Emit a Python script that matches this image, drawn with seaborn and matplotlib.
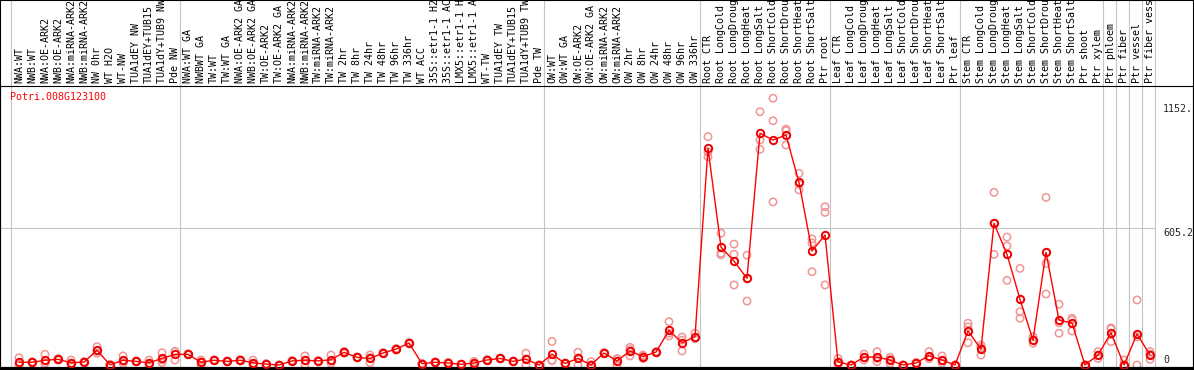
import numpy as np
import pandas as pd
import matplotlib
matplotlib.use("Agg")
import matplotlib.pyplot as plt
import matplotlib.transforms as mtransforms
from matplotlib.patches import Rectangle
import seaborn as sns

gene = "Potri.008G123100"

# condition labels, grouped as in the reference (text as shown, truncated at the top)
nw_labels = ["NWA:WT", "NWB:WT", "NWA:OE-ARK2", "NWB:OE-ARK2", "NWA:miRNA-ARK2",
             "NWB:miRNA-ARK2", "NW 0hr", "WT H2O", "WT-NW", "TUA1dEY NW",
             "TUA1dEY+TUB15", "TUA1dY+TUB9 NW", "Pde NW"]
tw_labels = ["NWA:WT GA", "NWBWT GA", "TW:WT", "TW:WT GA", "NWA:OE-ARK2 GA",
             "NWB:OE-ARK2 GA", "TW:OE-ARK2", "TW:OE-ARK2 GA", "NWA:miRNA-ARK2",
             "NWB:miRNA-ARK2", "TW:miRNA-ARK2", "TW:miRNA-ARK2", "TW 2hr", "TW 8hr",
             "TW 24hr", "TW 48hr", "TW 96hr", "TW 336hr", "WT ACC", "35S::etr1-1 H2",
             "35S::etr1-1 AC", "LMX5::etr1-1 H", "LMX5::etr1-1 A", "WT-TW", "TUA1dEY TW",
             "TUA1dEY+TUB15", "TUA1dY+TUB9 TW", "Pde TW"]
ow_labels = ["OW:WT", "OW:WT GA", "OW:OE-ARK2", "OW:OE-ARK2 GA", "OW:miRNA-ARK2",
             "OW:miRNA-ARK2", "OW 2hr", "OW 8hr", "OW 24hr", "OW 48hr", "OW 96hr", "OW 336hr"]
stress = ["CTR", "LongCold", "LongDroug", "LongHeat", "LongSalt",
          "ShortCold", "ShortDrou", "ShortHeat", "ShortSalt"]
root_labels = ["Root " + s for s in stress] + ["Ptr root"]
leaf_labels = ["Leaf " + s for s in stress] + ["Ptr leaf"]
stem_labels = ["Stem " + s for s in stress] + ["Ptr shoot", "Ptr xylem"]
tissue_labels = ["Ptr phloem", "Ptr fiber", "Ptr vessel", "Ptr fiber vess"]

groups = [nw_labels, tw_labels, ow_labels, root_labels, leaf_labels, stem_labels] + [[t] for t in tissue_labels]
labels = [l for g in groups for l in g]

means = [12, 12, 21, 25, 10, 13, 65, 1, 21, 16, 10, 29, 47,
         47, 12, 21, 16, 21, 10, 4, 0, 18, 21, 18, 23, 56, 34, 29, 53, 70, 97,
         6, 12, 9, 3, 9, 22, 29, 16, 26, 0,
         48, 7, 29, 0, 53, 18, 62, 37, 57, 153, 98, 125,
         955, 520, 458, 382, 1022, 992, 1014, 805, 503, 573,
         14, 0, 35, 35, 22, 0, 9, 41, 22, 0,
         150, 70, 625, 488, 290, 110, 497, 198, 185, 0, 44,
         142, 0, 137, 44]

reps = [[32, 3, 0], [12, 10, 14], [47, 8, 8], [28, 22, 25], [22, 8, 0], [13, 15, 11],
        [81, 62, 52], [1, 0, 2], [40, 16, 7], [16, 14, 18], [22, 8, 0], [54, 22, 10],
        [59, 60, 22],
        [50, 45, 46], [22, 14, 0], [21, 19, 23], [16, 14, 18], [24, 18, 21], [22, 8, 0],
        [4, 6, 2], [0, 0, 0], [18, 16, 20], [40, 21, 3], [18, 16, 20], [44, 18, 7],
        [60, 52, 56], [34, 32, 36], [44, 32, 10], [53, 51, 55], [72, 66, 72], [97, 94, 100],
        [6, 5, 7], [12, 10, 14], [12, 7, 8], [3, 2, 4], [9, 16, 2], [25, 20, 21],
        [29, 27, 31], [16, 14, 18], [52, 26, 0], [0, 0, 0],
        [104, 21, 19], [7, 5, 9], [56, 31, 0], [15, 0, 0], [55, 50, 54], [28, 26, 0],
        [78, 68, 40], [44, 38, 29], [57, 55, 59], [191, 128, 140], [123, 62, 109],
        [140, 119, 116],
        [1007, 918, 940], [581, 493, 486], [533, 488, 353], [484, 282, 380],
        [1117, 992, 951], [1176, 1077, 719], [1033, 970, 1040], [845, 772, 798],
        [556, 411, 538], [698, 673, 353],
        [29, 10, 3], [0, 0, 0], [48, 34, 22], [59, 30, 15], [34, 25, 7], [0, 0, 0],
        [9, 7, 11], [59, 36, 28], [40, 18, 8], [0, 0, 0],
        [184, 168, 98], [88, 44, 78], [761, 488, 625], [564, 525, 373], [426, 235, 206],
        [96, 110, 124], [739, 448, 313], [268, 140, 186], [206, 150, 199], [0, 0, 0],
        [59, 44, 29],
        [164, 103, 159], [22, 0, 0], [287, 0, 124], [59, 25, 48]]

y_ticks = [1152.0, 605.2, 0]
y_tick_text = ["1152.", "605.2", "0"]

sns.set_style("white")
plt.rcParams["font.family"] = ["DejaVu Sans Mono"]

W, H = 1194, 370
fig = plt.figure(figsize=(W / 100, H / 100), dpi=100)
ax = fig.add_axes([0, 2 / H, 1193 / W, 282 / H])

idx = np.arange(len(labels))
rep_df = pd.DataFrame([(i, v) for i, r in enumerate(reps) for v in r], columns=["idx", "value"])
mean_df = pd.DataFrame({"idx": idx, "value": means})

grid_c = "#c4c4c4"
xmin, xmax = -19 / 13, 1174 / 13
ax.set_xlim(xmin, xmax)
ax.set_ylim(-13.2, 1230.2)

# group separators, spanning the label area too
bounds = [-0.6] + list(np.cumsum([len(g) for g in groups]) - 0.6)
for b in bounds:
    ax.axvline(b, ymin=0, ymax=368 / 282, color=grid_c, lw=0.8, clip_on=False, zorder=1)
ax.hlines(605.2, xmin, bounds[-1], color=grid_c, lw=0.8, zorder=1)

sns.scatterplot(data=rep_df, x="idx", y="value", ax=ax, marker="o", s=28,
                facecolors="none", edgecolors="#f09494", linewidth=1.1, zorder=2, legend=False)
sns.lineplot(data=mean_df, x="idx", y="value", ax=ax, color="red", lw=1.0, marker="o",
             markersize=5.3, markerfacecolor="none", markeredgecolor="#ee0000",
             markeredgewidth=1.4, zorder=3)

ax.set_xticks([])
ax.set_yticks([])
ax.set_xlabel("")
ax.set_ylabel("")
for s in ["left", "right", "top"]:
    ax.spines[s].set_color("black")
    ax.spines[s].set_linewidth(0.8)
ax.spines["bottom"].set_color("black")
ax.spines["bottom"].set_linewidth(1.6)

# rotated condition labels above the plot
trans = mtransforms.blended_transform_factory(ax.transData, ax.transAxes)
for i, lab in enumerate(labels):
    ax.text(i, 1 + 3 / 282, lab, transform=trans, rotation=90, ha="center", va="bottom",
            fontsize=7.2, color="black", clip_on=False)

# value labels on the right
ax.text(88.0, y_ticks[0], y_tick_text[0], ha="left", va="top", fontsize=7.2)
ax.text(88.0, y_ticks[1], y_tick_text[1], ha="left", va="top", fontsize=7.2)
ax.text(88.0, y_ticks[2], y_tick_text[2], ha="left", va="bottom", fontsize=7.2)

fig.text(10 / W, 1 - 97 / H, gene, color="red", fontsize=7.2, va="center", ha="left")
fig.add_artist(Rectangle((0, 0), 1, 1, transform=fig.transFigure, fill=False,
                         edgecolor="black", lw=1.5))

fig.savefig("out.png", dpi=100)
